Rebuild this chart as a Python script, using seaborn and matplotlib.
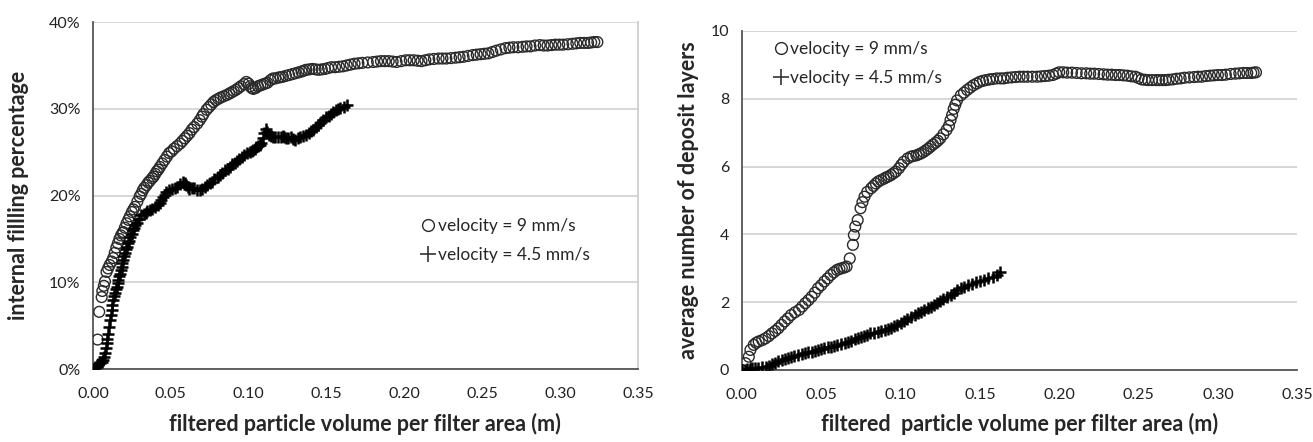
import matplotlib
matplotlib.use("Agg")
import matplotlib.pyplot as plt
from matplotlib.lines import Line2D
from matplotlib.ticker import FuncFormatter
import seaborn as sns
import pandas as pd

# left panel: internal filling percentage (%) vs filtered volume (m)
fill_fast = [
    (0, 0), (0.003, 3.4), (0.004, 6.6), (0.0056, 8.3), (0.006, 9.0), (0.007, 9.6), (0.0077, 10.1),
    (0.0087, 11.2), (0.0097, 11.6), (0.0107, 12.0), (0.012, 12.4), (0.013, 12.8), (0.014, 13.4),
    (0.015, 14.0), (0.016, 14.5), (0.017, 15.0), (0.018, 15.4), (0.019, 15.7), (0.0195, 15.8),
    (0.0205, 16.3), (0.0216, 16.8), (0.0227, 17.2), (0.0237, 17.6), (0.025, 18.1), (0.026, 18.4),
    (0.027, 18.7), (0.0285, 19.3), (0.030, 19.9), (0.031, 20.2), (0.032, 20.6), (0.033, 20.9),
    (0.0344, 21.2), (0.0355, 21.5), (0.0365, 21.7), (0.038, 22.0), (0.039, 22.2), (0.040, 22.5),
    (0.041, 22.8), (0.042, 23.0), (0.043, 23.3), (0.0445, 23.7), (0.046, 24.1), (0.0475, 24.5),
    (0.049, 24.9), (0.0505, 25.1), (0.052, 25.4), (0.054, 25.7), (0.056, 26.0), (0.0575, 26.3),
    (0.059, 26.6), (0.0605, 26.9), (0.062, 27.2), (0.0635, 27.6), (0.065, 27.9), (0.067, 28.3),
    (0.0686, 28.7), (0.070, 29.1), (0.071, 29.4), (0.073, 29.9), (0.0745, 30.2), (0.076, 30.5),
    (0.0775, 30.8), (0.079, 31.0), (0.0805, 31.15), (0.082, 31.3), (0.084, 31.45), (0.086, 31.6),
    (0.0875, 31.75), (0.089, 31.9), (0.0905, 32.05), (0.092, 32.2), (0.0935, 32.4), (0.095, 32.6),
    (0.097, 32.85), (0.0985, 33.1), (0.100, 32.9), (0.101, 32.6), (0.102, 32.4), (0.103, 32.3),
    (0.1045, 32.4), (0.106, 32.6), (0.1075, 32.7), (0.109, 32.8), (0.1105, 32.9), (0.112, 33.0),
    (0.114, 33.3), (0.1156, 33.5), (0.117, 33.5), (0.119, 33.6), (0.1205, 33.65), (0.122, 33.7),
    (0.124, 33.8), (0.126, 33.9), (0.128, 34.0), (0.130, 34.1), (0.132, 34.2), (0.134, 34.3),
    (0.1355, 34.4), (0.137, 34.5), (0.139, 34.55), (0.141, 34.6), (0.143, 34.55), (0.145, 34.5),
    (0.147, 34.55), (0.149, 34.6), (0.151, 34.7), (0.153, 34.8), (0.1555, 34.8), (0.158, 34.85),
    (0.1605, 34.9), (0.163, 35.0), (0.1655, 35.1), (0.168, 35.2), (0.1705, 35.25), (0.173, 35.3),
    (0.1765, 35.35), (0.180, 35.4), (0.1825, 35.45), (0.185, 35.5), (0.1875, 35.5), (0.190, 35.5),
    (0.1925, 35.45), (0.195, 35.4), (0.198, 35.5), (0.201, 35.6), (0.2035, 35.6), (0.206, 35.6),
    (0.2085, 35.55), (0.211, 35.5), (0.2135, 35.6), (0.216, 35.7), (0.219, 35.75), (0.222, 35.8),
    (0.2245, 35.8), (0.227, 35.8), (0.230, 35.85), (0.233, 35.9), (0.2355, 35.95), (0.238, 36.0),
    (0.241, 36.1), (0.244, 36.2), (0.2465, 36.25), (0.249, 36.3), (0.2515, 36.35), (0.254, 36.4),
    (0.2565, 36.55), (0.259, 36.7), (0.262, 36.85), (0.265, 37.0), (0.2675, 37.05), (0.270, 37.1),
    (0.273, 37.1), (0.276, 37.15), (0.2785, 37.2), (0.281, 37.2), (0.284, 37.3), (0.287, 37.35),
    (0.2895, 37.3), (0.292, 37.3), (0.2945, 37.35), (0.297, 37.4), (0.2995, 37.4), (0.302, 37.4),
    (0.305, 37.45), (0.308, 37.5), (0.3105, 37.55), (0.313, 37.6), (0.3155, 37.6), (0.318, 37.6),
    (0.320, 37.65), (0.322, 37.7), (0.324, 37.7),
]
fill_slow = [
    (0, 0), (0.0012, 0.2), (0.0024, 0.46), (0.0035, 0.6), (0.0045, 0.7), (0.0055, 0.85),
    (0.0066, 1.0), (0.0072, 1.4), (0.0077, 1.8), (0.0083, 2.4), (0.0088, 3.0), (0.0093, 3.5),
    (0.0098, 4.1), (0.0104, 4.8), (0.0109, 5.6), (0.0115, 6.2), (0.012, 6.8), (0.0125, 7.4),
    (0.013, 8.0), (0.0135, 8.4), (0.014, 8.8), (0.0146, 9.2), (0.0152, 9.5), (0.0158, 9.9),
    (0.0163, 10.3), (0.0168, 10.7), (0.0173, 11.0), (0.0178, 11.4), (0.0184, 11.8), (0.0189, 12.2),
    (0.0194, 12.6), (0.020, 13.0), (0.0205, 13.4), (0.021, 13.8), (0.0216, 14.1), (0.0223, 14.5),
    (0.023, 14.8), (0.024, 15.2), (0.0248, 15.6), (0.0256, 16.0), (0.0265, 16.3), (0.0272, 16.6),
    (0.028, 16.8), (0.0295, 17.3), (0.031, 17.75), (0.0325, 17.9), (0.034, 18.0), (0.035, 18.2),
    (0.0365, 18.3), (0.038, 18.5), (0.040, 18.7), (0.0415, 18.9), (0.043, 19.1), (0.044, 19.5),
    (0.045, 19.8), (0.046, 20.1), (0.047, 20.4), (0.049, 20.6), (0.051, 20.8), (0.0525, 20.9),
    (0.054, 21.0), (0.056, 21.3), (0.058, 21.6), (0.059, 21.4), (0.060, 21.2), (0.061, 21.0),
    (0.062, 20.8), (0.0635, 20.85), (0.065, 20.9), (0.067, 20.7), (0.0686, 20.6), (0.070, 20.8),
    (0.072, 21.0), (0.0735, 21.2), (0.075, 21.4), (0.0765, 21.6), (0.078, 21.9), (0.080, 22.2),
    (0.0814, 22.4), (0.083, 22.6), (0.085, 22.9), (0.0865, 23.1), (0.088, 23.3), (0.0895, 23.6),
    (0.091, 23.8), (0.0925, 24.0), (0.094, 24.2), (0.0955, 24.5), (0.097, 24.7), (0.099, 24.9),
    (0.1006, 25.0), (0.102, 25.1), (0.103, 25.2), (0.104, 25.4), (0.105, 25.6), (0.106, 25.7),
    (0.107, 25.8), (0.108, 26.1), (0.109, 26.6), (0.110, 27.2), (0.111, 27.7), (0.112, 27.3),
    (0.113, 27.0), (0.1145, 26.9), (0.1156, 26.8), (0.117, 26.7), (0.119, 26.7), (0.1205, 26.8),
    (0.122, 26.9), (0.123, 26.7), (0.124, 26.6), (0.1255, 26.65), (0.127, 26.7), (0.1285, 26.5),
    (0.130, 26.4), (0.1315, 26.6), (0.133, 26.8), (0.135, 26.9), (0.137, 27.0), (0.1385, 27.2),
    (0.140, 27.4), (0.1415, 27.6), (0.143, 27.9), (0.1445, 28.1), (0.146, 28.4), (0.148, 28.7),
    (0.150, 29.1), (0.1515, 29.2), (0.153, 29.4), (0.1545, 29.6), (0.156, 29.9), (0.1575, 30.0),
    (0.159, 30.1), (0.161, 30.25), (0.163, 30.4),
]

# right panel: average number of deposit layers vs filtered volume (m)
layers_fast = [
    (0, 0), (0.0023, 0.2), (0.0044, 0.39), (0.0054, 0.59), (0.0075, 0.74), (0.009, 0.8),
    (0.0106, 0.84), (0.0128, 0.88), (0.0148, 0.93), (0.017, 1.0), (0.019, 1.08), (0.021, 1.15),
    (0.023, 1.23), (0.025, 1.33), (0.027, 1.43), (0.029, 1.52), (0.031, 1.62), (0.0335, 1.7),
    (0.036, 1.77), (0.038, 1.87), (0.040, 1.97), (0.042, 2.06), (0.044, 2.16), (0.046, 2.28),
    (0.048, 2.41), (0.050, 2.5), (0.052, 2.61), (0.054, 2.7), (0.056, 2.80), (0.058, 2.88),
    (0.060, 2.95), (0.0615, 2.98), (0.063, 3.0), (0.0645, 3.02), (0.066, 3.05), (0.068, 3.29),
    (0.070, 3.69), (0.0706, 3.98), (0.0715, 4.23), (0.073, 4.42), (0.0748, 4.77), (0.076, 4.95),
    (0.0773, 5.11), (0.079, 5.25), (0.0815, 5.36), (0.083, 5.43), (0.0845, 5.5), (0.086, 5.56),
    (0.0877, 5.60), (0.0895, 5.64), (0.091, 5.68), (0.0925, 5.71), (0.094, 5.75), (0.0955, 5.8),
    (0.097, 5.85), (0.099, 5.95), (0.1005, 6.05), (0.102, 6.14), (0.1045, 6.24), (0.1065, 6.29),
    (0.108, 6.31), (0.110, 6.33), (0.1115, 6.36), (0.113, 6.39), (0.1145, 6.43), (0.116, 6.48),
    (0.1175, 6.53), (0.119, 6.59), (0.1205, 6.65), (0.122, 6.7), (0.1235, 6.76), (0.125, 6.83),
    (0.127, 6.95), (0.129, 7.08), (0.1305, 7.2), (0.1315, 7.37), (0.1325, 7.52), (0.1335, 7.7),
    (0.1345, 7.82), (0.1356, 7.95), (0.138, 8.1), (0.140, 8.18), (0.142, 8.26), (0.144, 8.33),
    (0.146, 8.4), (0.148, 8.45), (0.150, 8.5), (0.152, 8.53), (0.154, 8.55), (0.156, 8.57),
    (0.158, 8.58), (0.1606, 8.6), (0.163, 8.6), (0.165, 8.6), (0.1675, 8.62), (0.170, 8.63),
    (0.1725, 8.64), (0.175, 8.65), (0.1775, 8.65), (0.180, 8.65), (0.183, 8.65), (0.186, 8.65),
    (0.1885, 8.66), (0.191, 8.67), (0.1935, 8.68), (0.196, 8.70), (0.198, 8.74), (0.200, 8.78),
    (0.2025, 8.78), (0.205, 8.77), (0.208, 8.77), (0.211, 8.76), (0.214, 8.75), (0.217, 8.75),
    (0.2195, 8.74), (0.222, 8.74), (0.225, 8.73), (0.228, 8.72), (0.2305, 8.71), (0.233, 8.71),
    (0.2355, 8.70), (0.238, 8.70), (0.2405, 8.69), (0.243, 8.68), (0.2455, 8.66), (0.248, 8.65),
    (0.250, 8.61), (0.252, 8.57), (0.254, 8.56), (0.256, 8.55), (0.2585, 8.55), (0.261, 8.55),
    (0.263, 8.55), (0.265, 8.55), (0.267, 8.55), (0.269, 8.56), (0.2715, 8.57), (0.274, 8.59),
    (0.2765, 8.60), (0.279, 8.62), (0.282, 8.63), (0.285, 8.64), (0.2875, 8.65), (0.290, 8.65),
    (0.2925, 8.67), (0.295, 8.68), (0.2975, 8.69), (0.300, 8.70), (0.3025, 8.70), (0.305, 8.71),
    (0.308, 8.73), (0.311, 8.74), (0.3135, 8.75), (0.316, 8.76), (0.3185, 8.76), (0.321, 8.76),
    (0.3225, 8.77), (0.324, 8.78),
]
layers_slow = [
    (0, 0), (0.002, 0.01), (0.0035, 0.02), (0.005, 0.03), (0.0065, 0.05), (0.008, 0.06),
    (0.010, 0.07), (0.0125, 0.08), (0.015, 0.10), (0.017, 0.13), (0.019, 0.17), (0.021, 0.21),
    (0.023, 0.25), (0.025, 0.28), (0.027, 0.32), (0.029, 0.35), (0.031, 0.39), (0.033, 0.41),
    (0.0355, 0.44), (0.038, 0.47), (0.040, 0.49), (0.042, 0.52), (0.044, 0.54), (0.046, 0.57),
    (0.048, 0.59), (0.050, 0.62), (0.052, 0.64), (0.054, 0.67), (0.056, 0.69), (0.058, 0.72),
    (0.060, 0.74), (0.0625, 0.76), (0.065, 0.79), (0.067, 0.82), (0.069, 0.86), (0.071, 0.90),
    (0.073, 0.93), (0.075, 0.96), (0.077, 1.00), (0.079, 1.04), (0.081, 1.08), (0.083, 1.10),
    (0.0855, 1.13), (0.088, 1.16), (0.090, 1.18), (0.092, 1.21), (0.094, 1.25), (0.096, 1.29),
    (0.098, 1.33), (0.100, 1.39), (0.102, 1.45), (0.104, 1.51), (0.1065, 1.57), (0.109, 1.62),
    (0.111, 1.67), (0.113, 1.72), (0.115, 1.77), (0.117, 1.82), (0.119, 1.87), (0.121, 1.92),
    (0.123, 1.97), (0.125, 2.02), (0.127, 2.08), (0.129, 2.14), (0.1315, 2.21), (0.1335, 2.28),
    (0.1356, 2.36), (0.138, 2.41), (0.140, 2.45), (0.1425, 2.50), (0.145, 2.55), (0.1475, 2.59),
    (0.150, 2.62), (0.1525, 2.66), (0.155, 2.70), (0.158, 2.75), (0.1606, 2.80), (0.1625, 2.88),
]

label_fast = "velocity = 9 mm/s"
label_slow = "velocity = 4.5 mm/s"
x_ticks = [0.00, 0.05, 0.10, 0.15, 0.20, 0.25, 0.30, 0.35]


def to_df(pairs):
    return pd.DataFrame(pairs, columns=["x", "y"])


sns.set_theme(style="white")
plt.rcParams["font.family"] = ["Lato", "DejaVu Sans"]

fig = plt.figure(figsize=(13.13, 4.42), dpi=100)
ax1 = fig.add_axes([0.0708, 0.165, 0.415, 0.785])
ax2 = fig.add_axes([0.565, 0.163, 0.423, 0.767])

circle_kw = dict(marker="o", s=60, facecolor="none", edgecolor="#2a2a2a", linewidth=1.0, zorder=3)
plus_kw = dict(marker="+", s=75, color="black", linewidth=1.8, zorder=4)


def style_axis(ax, ymax, ystep, right_border):
    ax.set_xlim(0, 0.35)
    ax.set_ylim(0, ymax)
    ax.set_xticks(x_ticks)
    ax.set_xticklabels([f"{t:.2f}" for t in x_ticks])
    ax.set_yticks([i * ystep for i in range(int(round(ymax / ystep)) + 1)])
    ax.yaxis.grid(True, color="#d4d4d4", linewidth=1.3)
    ax.set_axisbelow(True)
    for side in ["left", "bottom"]:
        ax.spines[side].set_color("#555555")
        ax.spines[side].set_linewidth(1.3)
    ax.spines["top"].set_visible(False)
    if right_border:
        ax.spines["right"].set_color("#cfcfcf")
        ax.spines["right"].set_linewidth(1.3)
    else:
        ax.spines["right"].set_visible(False)
    ax.tick_params(axis="both", direction="out", length=5, width=1.2, color="#555555",
                   labelsize=11.5, labelcolor="#222222", pad=4)
    ax.tick_params(axis="x", pad=8)


# left chart
sns.scatterplot(data=to_df(fill_fast), x="x", y="y", ax=ax1, **circle_kw)
sns.scatterplot(data=to_df(fill_slow), x="x", y="y", ax=ax1, **plus_kw)
style_axis(ax1, 40, 10, True)
ax1.yaxis.set_major_formatter(FuncFormatter(lambda v, p: f"{v:.0f}%"))
ax1.set_xlabel("filtered particle volume per filter area (m)", fontsize=15.5, fontweight="bold")
ax1.set_ylabel("internal fillling percentage", fontsize=15.5, fontweight="bold")
ax1.xaxis.set_label_coords(0.5, -0.127)
ax1.yaxis.set_label_coords(-0.117, 0.5)

# right chart
sns.scatterplot(data=to_df(layers_fast), x="x", y="y", ax=ax2, **circle_kw)
sns.scatterplot(data=to_df(layers_slow), x="x", y="y", ax=ax2, **plus_kw)
style_axis(ax2, 10, 2, False)
ax2.set_xlabel("filtered  particle volume per filter area (m)", fontsize=15.5, fontweight="bold")
ax2.set_ylabel("average number of deposit layers", fontsize=15.5, fontweight="bold")
ax2.xaxis.set_label_coords(0.5, -0.127)
ax2.yaxis.set_label_coords(-0.077, 0.5)

handles = [
    Line2D([], [], linestyle="none", marker="o", markersize=8.5, markerfacecolor="none",
           markeredgecolor="#2a2a2a", markeredgewidth=1.0, label=label_fast),
    Line2D([], [], linestyle="none", marker="+", markersize=11, color="#333333",
           markeredgewidth=1.2, label=label_slow),
]
for ax, anchor in [(ax1, (0.59, 0.455)), (ax2, (0.045, 0.99))]:
    ax.legend(handles=handles, loc="upper left", bbox_to_anchor=anchor, frameon=False,
              fontsize=12.5, handlelength=0.8, handletextpad=0.15, labelspacing=0.75,
              borderaxespad=0)

fig.savefig("out.png", dpi=100)
